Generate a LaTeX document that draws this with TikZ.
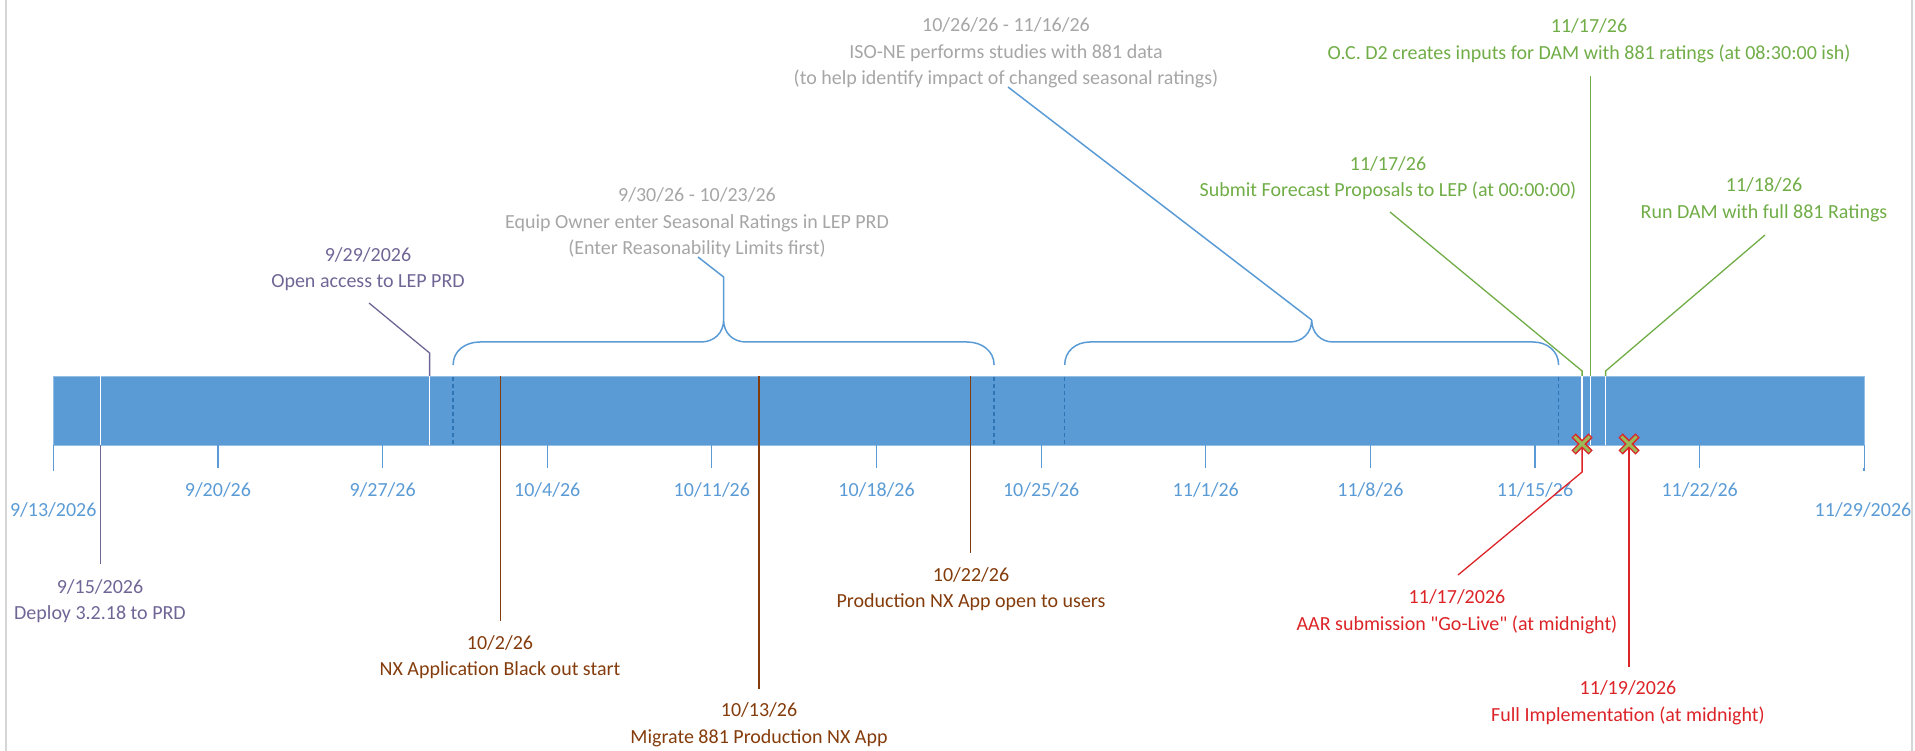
\documentclass[tikz,border=0pt]{standalone}
\usepackage{fontspec}
\setmainfont{Carlito}[Ligatures=TeXOff]
\definecolor{barblue}{HTML}{5B9BD5}
\definecolor{dashblue}{HTML}{2E75B6}
\definecolor{evpurple}{RGB}{112,102,150}
\definecolor{evbrown}{HTML}{843C0C}
\definecolor{evgreen}{HTML}{70AD47}
\definecolor{evred}{RGB}{220,36,40}
\definecolor{evgray}{HTML}{A6A6A6}
\definecolor{xgreen}{HTML}{9BBB59}
\definecolor{frame}{HTML}{D6D6D6}

\begin{document}
\begin{tikzpicture}
[
    x=1pt, y=-1pt,
    font=\fontsize{20}{26.5}\selectfont,
    every node/.style={align=center, inner sep=0pt},
    tickline/.style={barblue, line width=1.2pt},
    ticklabel/.style={text=barblue},
    gapline/.style={white, line width=1.3pt},
    spanline/.style={dashblue, line width=1.4pt, dash pattern=on 4pt off 3pt},
    bracket/.style={barblue, line width=1.5pt},
    purplelead/.style={evpurple, line width=1.3pt},
    brownlead/.style={evbrown, line width=1.3pt},
    greenlead/.style={evgreen, line width=1.3pt},
    redlead/.style={evred, line width=1.3pt},
    xout/.style={evred, line width=6pt},
    xin/.style={xgreen, line width=3pt, shorten <=1.3pt, shorten >=1.3pt},
]
\useasboundingbox (0,0) rectangle (1915,751);
\draw [frame, line width=2pt] (6,0) -- (6,751) (1912,0) -- (1912,751);

\fill [barblue, draw=barblue!65!white, line width=0.8pt] (53.3,376) rectangle (1864,445);

\foreach \i in {0,...,11}
    \draw [tickline] ({53.3+164.64*\i},445) -- ++(0,23);
\draw [tickline] (53.3,468) -- ++(0,3) (1864,468) -- ++(0,3);
\foreach \t [count=\i from 1] in {9/20/26, 9/27/26, 10/4/26, 10/11/26, 10/18/26, 10/25/26, 11/1/26, 11/8/26, 11/15/26, 11/22/26}
    \node [ticklabel] (tick\i) at ({53.3+164.64*\i},490) {\t};
\node [ticklabel] (tickfirst) at (53.3,510) {9/13/2026};
\node [ticklabel] (ticklast) at (1863,510) {11/29/2026};

\foreach \x in {453.1, 994.1, 1064.7, 1558.6}
    \draw [spanline] (\x,377) -- (\x,445);
\foreach \x in {100.3, 429.6, 1582.1, 1590.4, 1605.6}
    \draw [gapline] (\x,376.5) -- (\x,444.5);

\coordinate (b915) at (100.3,445);
\coordinate (e915) at (100.3,564);
\node [text=evpurple] (deploy) at (100,601) {9/15/2026\\Deploy 3.2.18 to PRD};
\draw [purplelead] (b915) -- (e915);

\coordinate (b929) at (429.6,376);
\coordinate (k929) at (429.6,353);
\coordinate (e929) at (369,303);
\node [text=evpurple] (openaccess) at (368,269) {9/29/2026\\Open access to LEP PRD};
\draw [purplelead] (b929) -- (k929) -- (e929);

\coordinate (b1002) at (500.2,376);
\coordinate (e1002) at (500.2,621);
\node [text=evbrown] (blackout) at (500,657) {10/2/26\\NX Application Black out start};
\draw [brownlead] (b1002) -- (e1002);

\coordinate (b1013) at (758.9,376);
\coordinate (e1013) at (758.9,689);
\node [text=evbrown] (migrate) at (759,725) {10/13/26\\Migrate 881 Production NX App};
\draw [brownlead] (b1013) -- (e1013);

\coordinate (b1022) at (970.6,376);
\coordinate (e1022) at (970.6,553);
\node [text=evbrown] (openusers) at (971,589) {10/22/26\\Production NX App open to users};
\draw [brownlead] (b1022) -- (e1022);

\coordinate (tipequip) at (723.6,320);
\draw [bracket] (453.1,365) .. controls (453.1,351) and (465,342) .. (480,342) -- (701,342)
    .. controls (714,342) and (723.6,333) .. (tipequip) .. controls (723.6,333) and (733,342) .. (746,342)
    -- (967,342) .. controls (982,342) and (994.1,351) .. (994.1,365);
\coordinate (kequip) at (723.6,277);
\coordinate (eequip) at (698,257);
\node [text=evgray] (equip) at (697,223) {9/30/26 - 10/23/26\\Equip Owner enter Seasonal Ratings in LEP PRD\\(Enter Reasonability Limits first)};
\draw [bracket] (tipequip) -- (kequip) -- (eequip);

\coordinate (tipiso) at (1311.7,320);
\draw [bracket] (1064.7,365) .. controls (1064.7,351) and (1076,342) .. (1090,342) -- (1290,342)
    .. controls (1302,342) and (1311.7,333) .. (tipiso) .. controls (1311.7,333) and (1321,342) .. (1333,342)
    -- (1533,342) .. controls (1547,342) and (1558.6,351) .. (1558.6,365);
\coordinate (eiso) at (1008,87);
\node [text=evgray] (studies) at (1006,53) {10/26/26 - 11/16/26\\ISO-NE performs studies with 881 data\\(to help identify impact of changed seasonal ratings)};
\draw [bracket] (tipiso) -- (eiso);

\coordinate (bsubmit) at (1582.1,376);
\coordinate (ksubmit) at (1582.1,371);
\coordinate (esubmit) at (1390,212);
\node [text=evgreen] (submit) at (1388,178) {11/17/26\\Submit Forecast Proposals to LEP (at 00:00:00)};
\draw [greenlead] (bsubmit) -- (ksubmit) -- (esubmit);

\coordinate (binputs) at (1590.4,376);
\coordinate (einputs) at (1590.4,76);
\node [text=evgreen] (inputs) at (1589,41) {11/17/26\\O.C. D2 creates inputs for DAM with 881 ratings (at 08:30:00 ish)};
\draw [greenlead] (binputs) -- (einputs);

\coordinate (brun) at (1605.6,376);
\coordinate (krun) at (1605.6,371);
\coordinate (erun) at (1765,235);
\node [text=evgreen] (rundam) at (1764,200) {11/18/26\\Run DAM with full 881 Ratings};
\draw [greenlead] (brun) -- (krun) -- (erun);

\coordinate (xgolive) at (1582.1,444);
\coordinate (kgolive) at (1582.1,472);
\coordinate (egolive) at (1458,575);
\node [text=evred] (golive) at (1457,612) {11/17/2026\\AAR submission "Go-Live" (at midnight)};
\draw [redlead] (xgolive) -- (kgolive) -- (egolive);

\coordinate (xfull) at (1629.1,444);
\coordinate (efull) at (1629.1,667);
\node [text=evred] (fullimpl) at (1628,703) {11/19/2026\\Full Implementation (at midnight)};
\draw [redlead] (xfull) -- (efull);

\foreach \c in {xgolive, xfull} {
    \draw [xout] ([shift={(-8.5,-8.5)}]\c) -- ([shift={(8.5,8.5)}]\c) ([shift={(-8.5,8.5)}]\c) -- ([shift={(8.5,-8.5)}]\c);
    \draw [xin] ([shift={(-8.5,-8.5)}]\c) -- ([shift={(8.5,8.5)}]\c);
    \draw [xin] ([shift={(-8.5,8.5)}]\c) -- ([shift={(8.5,-8.5)}]\c);
}
\end{tikzpicture}
\end{document}
